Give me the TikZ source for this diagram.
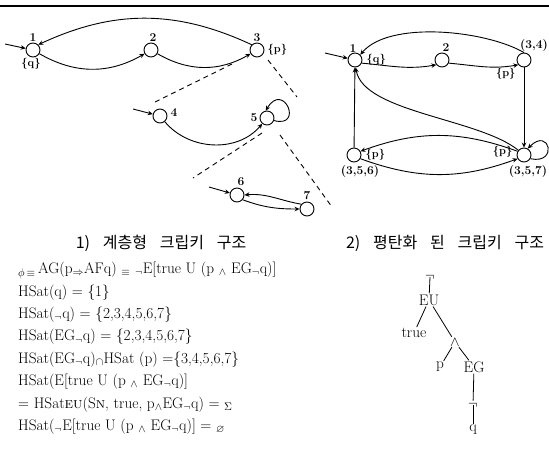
\documentclass[tikz,border=0pt]{standalone}
\usepackage{amsmath}
\usepackage{amssymb}
\usepackage{fontspec}
\newfontfamily\krfont{Noto Sans CJK KR}
\usetikzlibrary{arrows.meta,positioning}

\begin{document}
\begin{tikzpicture}[
  x=1pt, y=1pt,
  state/.style={circle, draw, line width=0.9pt, minimum size=14pt, inner sep=0pt},
  trans/.style={-{Stealth[length=5pt,width=4.5pt]}, line width=0.9pt},
  expand/.style={dash pattern=on 5pt off 4pt, line width=0.9pt},
  stlabel/.style={font=\fontsize{12}{12}\selectfont\bfseries, inner sep=1pt},
  proplabel/.style={font=\fontsize{11}{11}\selectfont\bfseries, inner sep=1pt},
  caption/.style={font=\krfont\fontsize{16}{16}\selectfont, inner sep=0pt},
  treenode/.style={font=\fontsize{15.3}{16}\selectfont, inner sep=1pt},
  treeedge/.style={line width=0.8pt}
]
  \useasboundingbox (0,0) rectangle (549,-448);
  \draw[line width=1.3pt] (0,-6) -- (549,-6);

  % hierarchical kripke structure
  \node[state] (s1) at (33,-50) {};
  \node[state] (s2) at (151,-50) {};
  \node[state] (s3) at (257,-50) {};
  \node[state] (s4) at (160,-116) {};
  \node[state] (s5) at (267,-118) {};
  \node[state] (s6) at (237,-195) {};
  \node[state] (s7) at (307,-209) {};
  \node[stlabel, above=0pt of s1] {1};
  \node[stlabel, above=0pt of s2, xshift=2pt] {2};
  \node[stlabel, above=0pt of s3] {3};
  \node[stlabel, right=2pt of s4, yshift=3pt] {4};
  \node[stlabel, left=1pt of s5] {5};
  \node[stlabel, above=1pt of s6, xshift=4pt] {6};
  \node[stlabel, above=1pt of s7] {7};
  \node[proplabel, below=0pt of s1, xshift=-2pt] {\{q\}};
  \node[proplabel, right=2pt of s3] {\{p\}};

  \coordinate (in1) at (5,-44);
  \coordinate (in4) at (133,-109);
  \coordinate (in6) at (209,-187);
  \draw[trans] (in1) -- (s1);
  \draw[trans] (in4) -- (s4);
  \draw[trans] (in6) -- (s6);

  \draw[trans] (s3.north west) to[out=155, in=25] (s1.north east);
  \draw[trans] (s1) to[out=-30, in=-150] (s2);
  \draw[trans] (s2) to[out=-30, in=-150] (s3);
  \draw[trans] (s4) to[out=-50, in=-130] (s5);
  \draw[trans] (s5.-20) .. controls +(30,-8) and +(18,30) .. (s5.100);
  \draw[trans] (s7.140) to[out=170, in=5] (s6.east);
  \draw[trans] (s6.-40) to[out=-20, in=180] (s7.west);

  % expansion of states 3 and 5
  \coordinate (d1a) at (155,-102);
  \coordinate (d1b) at (232,-64);
  \coordinate (d2a) at (268,-60);
  \coordinate (d2b) at (297,-97);
  \coordinate (d3a) at (262,-133);
  \coordinate (d3b) at (193,-178);
  \coordinate (d4a) at (280,-135);
  \coordinate (d4b) at (332,-207);
  \draw[expand] (d1a) -- (d1b);
  \draw[expand] (d2a) -- (d2b);
  \draw[expand] (d3a) -- (d3b);
  \draw[expand] (d4a) -- (d4b);

  % flattened kripke structure
  \node[state] (f1) at (355,-60) {};
  \node[state] (f2) at (442,-60) {};
  \node[state] (f34) at (524,-60) {};
  \node[state] (f356) at (354,-155) {};
  \node[state] (f357) at (524,-155) {};
  \node[stlabel, above=-1pt of f1, xshift=-2pt] {1};
  \node[stlabel, above=0pt of f2, xshift=4pt] {2};
  \node[stlabel, above=0pt of f34, xshift=10pt] {(3,4)};
  \node[stlabel, below=2pt of f356, xshift=6pt] {(3,5,6)};
  \node[stlabel, below=2pt of f357, xshift=4pt] {(3,5,7)};
  \node[proplabel, right=3pt of f1] {\{q\}};
  \node[proplabel, below left=2pt and 2pt of f34] {\{p\}};
  \node[proplabel, right=3pt of f356] {\{p\}};
  \node[proplabel, left=3pt of f357, yshift=3pt] {\{p\}};

  \coordinate (inf) at (325,-53);
  \draw[trans] (inf) -- (f1);
  \draw[trans] (f1.-25) to[out=-5, in=-170] (f2.-140);
  \draw[trans] (f2.-25) to[out=-5, in=-170] (f34.-140);
  \draw[trans] (f34.north) to[out=150, in=50, looseness=0.7] (f1.45);
  \draw[trans] (f34) -- (f357);
  \draw[trans] (f356) -- (f1);
  \draw[trans] (f357.140) .. controls +(-40,32) and +(8,-45) .. (f1.-85);
  \draw[trans] (f357.150) to[out=160, in=20] (f356.30);
  \draw[trans] (f356.-30) to[out=-20, in=-160] (f357.-150);
  \draw[trans] (f357.-30) .. controls +(28,-6) and +(22,22) .. (f357.60);

  % captions
  \node[caption] (cap1) at (161,-243) {1)\hspace{0.8em}계층형\hspace{0.8em}크립키\hspace{0.8em}구조};
  \node[caption] (cap2) at (445,-243) {2)\hspace{0.8em}평탄화\hspace{0.8em}된\hspace{0.8em}크립키\hspace{0.8em}구조};

  % satisfaction sets
  \node[anchor=north west, align=left, inner sep=0pt,
        font=\fontsize{15.3}{22.4}\selectfont] (sat) at (18,-262) {%
    $_{\phi\,\equiv}$\,AG(p$_{\Rightarrow}$AFq) $_{\equiv}$ $_{\neg}$E[true U (p $_{\wedge}$ EG$_{\neg}$q)]\\
    HSat(q) = \{1\}\\
    HSat($_{\neg}$q) = \{2,3,4,5,6,7\}\\
    HSat(EG$_{\neg}$q) = \{2,3,4,5,6,7\}\\
    HSat(EG$_{\neg}$q)$_{\cap}$HSat (p) =\{3,4,5,6,7\}\\
    HSat(E[true U (p $_{\wedge}$ EG$_{\neg}$q)]\\
    = HSat\textsc{eu}(S\textsc{n}, true, p$_{\wedge}$EG$_{\neg}$q) = $_{\Sigma}$\\
    HSat($_{\neg}$E[true U (p $_{\wedge}$ EG$_{\neg}$q)] = $_{\varnothing}$};

  % parse tree
  \node[treenode] (tneg) at (430,-277) {$\neg$};
  \node[treenode] (teu) at (429,-300) {EU};
  \node[treenode] (ttrue) at (414,-333) {true};
  \node[treenode] (tand) at (455,-342) {$\wedge$};
  \node[treenode] (tp) at (440,-367) {p};
  \node[treenode] (teg) at (474,-367) {EG};
  \node[treenode] (tneg2) at (473,-405) {$\neg$};
  \node[treenode] (tq) at (473,-430) {q};
  \draw[treeedge] (tneg.center) -- (teu);
  \draw[treeedge] (teu) -- (ttrue);
  \draw[treeedge] (teu) -- (tand);
  \draw[treeedge] (tand) -- (tp);
  \draw[treeedge] (tand) -- (teg);
  \draw[treeedge] (teg) -- (tneg2);
  \draw[treeedge] (tneg2.center) -- (tq);
\end{tikzpicture}
\end{document}
